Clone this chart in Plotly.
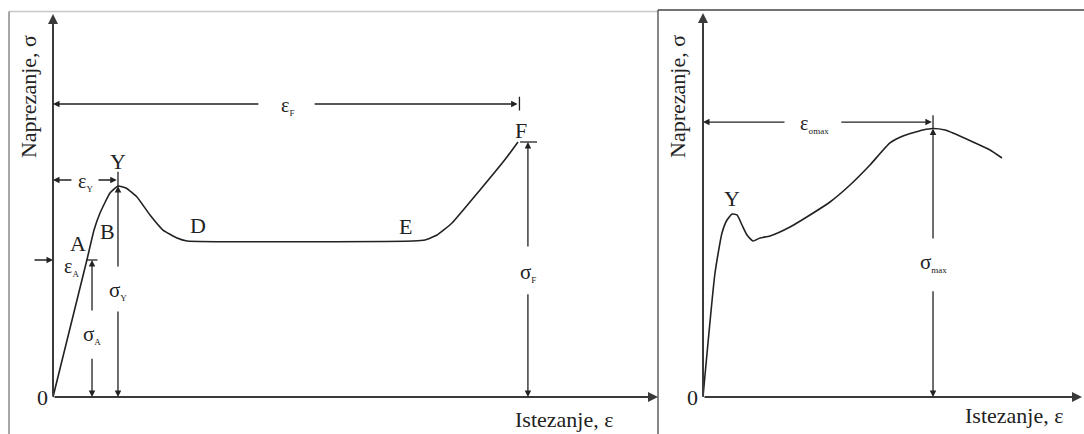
import plotly.graph_objects as go

# ---------------- data (arbitrary units: strain 0-100, stress 0-100) ----------------
# Left panel: stress-strain curve with yield point Y, neck D-E and fracture F
left_strain = [0, 5.6, 6.78, 7.77, 9.42, 10.74, 12.07, 13.88, 16.03, 18.18, 20.50, 22.15,
               59.50, 61.49, 63.47, 65.95, 70.58, 75.04, 76.86]
left_stress = [0, 35.77, 43.6, 48.04, 53.26, 55.09, 54.57, 52.22, 47.52, 43.60, 41.51, 40.73,
               40.73, 40.99, 42.30, 45.43, 54.05, 62.66, 66.58]

# Right panel: stress-strain curve with yield point Y and maximum stress
right_strain = [0, 3.17, 5.01, 6.33, 7.65, 8.97, 10.29, 11.61, 13.19, 15.04, 17.68, 22.96,
                28.23, 33.51, 38.79, 44.06, 49.34, 52.77, 58.05, 60.69, 63.85, 65.96, 71.24,
                75.73, 78.89]
right_stress = [0, 32.29, 42.71, 46.09, 47.66, 47.40, 44.79, 42.19, 40.63, 41.41, 41.93, 44.27,
                47.40, 50.78, 55.21, 60.42, 66.15, 67.97, 69.53, 69.92, 69.53, 68.75, 66.41,
                64.32, 62.24]

# Characteristic points (strain, stress)
eps_A, sig_A = 6.45, 35.77
eps_Y, sig_Y = 10.74, 55.09
eps_F, sig_F = 77.1, 66.58
eps_smax, sig_smax = 60.69, 69.92
eps_Y2, sig_Y2 = 7.65, 47.66

point_labels_left = ["A", "B", "Y", "D", "E", "F"]
point_labels_right = ["Y"]
y_title = "Naprezanje, σ"
x_title = "Istezanje, ε"

# ---------------- styling ----------------
FONT = "Liberation Serif"
INK = "#222222"
AXIS = "#3a3a3a"
W, H = 1084, 434
SPLIT = 658  # px, divider between panels

fig = go.Figure()
fig.add_trace(go.Scatter(x=left_strain, y=left_stress, mode="lines",
                         line=dict(color=INK, width=1.6, shape="spline", smoothing=0.4),
                         xaxis="x", yaxis="y", hoverinfo="skip", showlegend=False))
fig.add_trace(go.Scatter(x=right_strain, y=right_stress, mode="lines",
                         line=dict(color=INK, width=1.6, shape="spline", smoothing=0.5),
                         xaxis="x2", yaxis="y2", hoverinfo="skip", showlegend=False))

ann = []
shapes = []


def arrow(ax_id, xh, yh, xt, yt, width=1.3, size=1.0, color=INK):
    xr = "x" if ax_id == 1 else "x2"
    yr = "y" if ax_id == 1 else "y2"
    ann.append(dict(x=xh, y=yh, ax=xt, ay=yt, xref=xr, yref=yr, axref=xr, ayref=yr,
                    showarrow=True, arrowhead=2, arrowsize=size, arrowwidth=width,
                    arrowcolor=color, text=""))


def label(ax_id, x, y, text, size=22, xanchor="center", yanchor="middle", angle=0, xshift=0):
    xr = "x" if ax_id == 1 else "x2"
    yr = "y" if ax_id == 1 else "y2"
    ann.append(dict(x=x, y=y, xref=xr, yref=yr, text=text, showarrow=False,
                    font=dict(family=FONT, size=size, color=INK),
                    xanchor=xanchor, yanchor=yanchor, textangle=angle, xshift=xshift))


def seg(ax_id, x0, y0, x1, y1, width=1.3, color=INK):
    xr = "x" if ax_id == 1 else "x2"
    yr = "y" if ax_id == 1 else "y2"
    shapes.append(dict(type="line", xref=xr, yref=yr, x0=x0, y0=y0, x1=x1, y1=y1,
                       line=dict(color=color, width=width)))


def sub(base, s, size=9):
    return f"{base}<sub><span style='font-size:{size}px'>{s}</span></sub>"


# ---- axes with arrows ----
for p in (1, 2):
    arrow(p, 0, 100, 0, 0, width=2, size=1.0, color=AXIS)
    arrow(p, 100, 0, 0, 0, width=2, size=1.0, color=AXIS)
    label(p, 0, 0, "0", xanchor="right", xshift=-3)

# ---- left panel annotations ----
label(1, -4.13, 78.3, y_title, angle=-90)
label(1, 84.5, -6.0, x_title)

# eps_F
arrow(1, 0, 76.5, 34.2, 76.5)
arrow(1, eps_F - 0.3, 76.5, 43.0, 76.5)
seg(1, eps_F, 74.8, eps_F, 78.4)
label(1, 38.8, 76.0, sub("ε", "F"), size=20)

# eps_Y
arrow(1, 0, 56.66, 3.3, 56.66)
arrow(1, eps_Y - 0.2, 56.66, 7.27, 56.66)
seg(1, eps_Y, 54.8, eps_Y, 58.8)
label(1, 5.45, 56.2, sub("ε", "Y"), size=20)

# sigma_Y
arrow(1, eps_Y, sig_Y, eps_Y, 33.7)
arrow(1, eps_Y, 0, eps_Y, 22.7)
label(1, eps_Y, 27.9, sub("σ", "Y"), size=21)

# sigma_A
arrow(1, eps_A, sig_A, eps_A, 22.2)
arrow(1, eps_A, 0, eps_A, 10.4)
seg(1, eps_A - 0.9, sig_A, eps_A + 0.9, sig_A)
label(1, eps_A, 16.2, sub("σ", "A"), size=21)

# eps_A
arrow(1, 0, sig_A, -3.3, sig_A)
label(1, 3.0, 33.9, sub("ε", "A"), size=20)

# sigma_F
arrow(1, eps_F + 1.4, sig_F, eps_F + 1.4, 38.9)
arrow(1, eps_F + 1.4, 0, eps_F + 1.4, 27.2)
seg(1, eps_F + 0.1, sig_F, eps_F + 2.9, sig_F)
label(1, eps_F + 1.4, 32.4, sub("σ", "F"), size=21)

# point letters
for t, (x, y) in zip(point_labels_left,
                     [(4.1, 40.0), (8.93, 43.3), (eps_Y, 61.4), (23.97, 44.9), (58.2, 44.4), (77.4, 69.7)]):
    label(1, x, y, t)

# ---- right panel annotations ----
label(2, -6.6, 78.4, y_title, angle=-90)
label(2, 82.1, -4.7, x_title)

arrow(2, 0, 71.6, 21.9, 71.6)
arrow(2, eps_smax - 0.3, 71.6, 36.1, 71.6)
seg(2, eps_smax, 69.9, eps_smax, 73.4)
label(2, 29.4, 71.0, sub("ε", "σmax"), size=20)

arrow(2, eps_smax, sig_smax, eps_smax, 40.9)
arrow(2, eps_smax, 0, eps_smax, 27.9)
label(2, eps_smax, 34.9, sub("σ", "max"), size=21)

for t, (x, y) in zip(point_labels_right, [(eps_Y2, 51.6)]):
    label(2, x, y, t)

# ---- frame lines (paper coords) ----
def px_x(v):
    return v / W


def px_y(v):
    return 1 - v / H


shapes += [
    dict(type="line", xref="paper", yref="paper", x0=px_x(9), x1=px_x(SPLIT), y0=px_y(11.5), y1=px_y(11.5),
         line=dict(color="#c8c8c8", width=1.3)),
    dict(type="line", xref="paper", yref="paper", x0=px_x(9), x1=px_x(9), y0=px_y(11.5), y1=0,
         line=dict(color="#777777", width=1.3)),
    dict(type="line", xref="paper", yref="paper", x0=px_x(SPLIT), x1=1, y0=px_y(10), y1=px_y(10),
         line=dict(color="#444444", width=1.3)),
    dict(type="line", xref="paper", yref="paper", x0=px_x(SPLIT), x1=px_x(SPLIT), y0=px_y(10), y1=0,
         line=dict(color="#444444", width=1.3)),
]

axis_common = dict(visible=False, showgrid=False, zeroline=False, fixedrange=True)

fig.update_layout(
    width=W, height=H, margin=dict(l=0, r=0, t=0, b=0),
    paper_bgcolor="white", plot_bgcolor="white",
    showlegend=False,
    xaxis=dict(domain=[0, SPLIT / W], range=[-53 / 6.05, 100], **axis_common),
    yaxis=dict(domain=[0, 1], range=[-37 / 3.83, 397 / 3.83], **axis_common),
    xaxis2=dict(domain=[SPLIT / W, 1], range=[-(703 - SPLIT) / 3.79, 100 + 2 / 3.79], **axis_common),
    yaxis2=dict(domain=[0, 1], range=[-37 / 3.84, 397 / 3.84], **axis_common),
    annotations=ann, shapes=shapes,
)

fig.write_html("out.html", config={"displayModeBar": False},
               post_script="document.body.style.margin='0';document.body.style.overflow='hidden';")
